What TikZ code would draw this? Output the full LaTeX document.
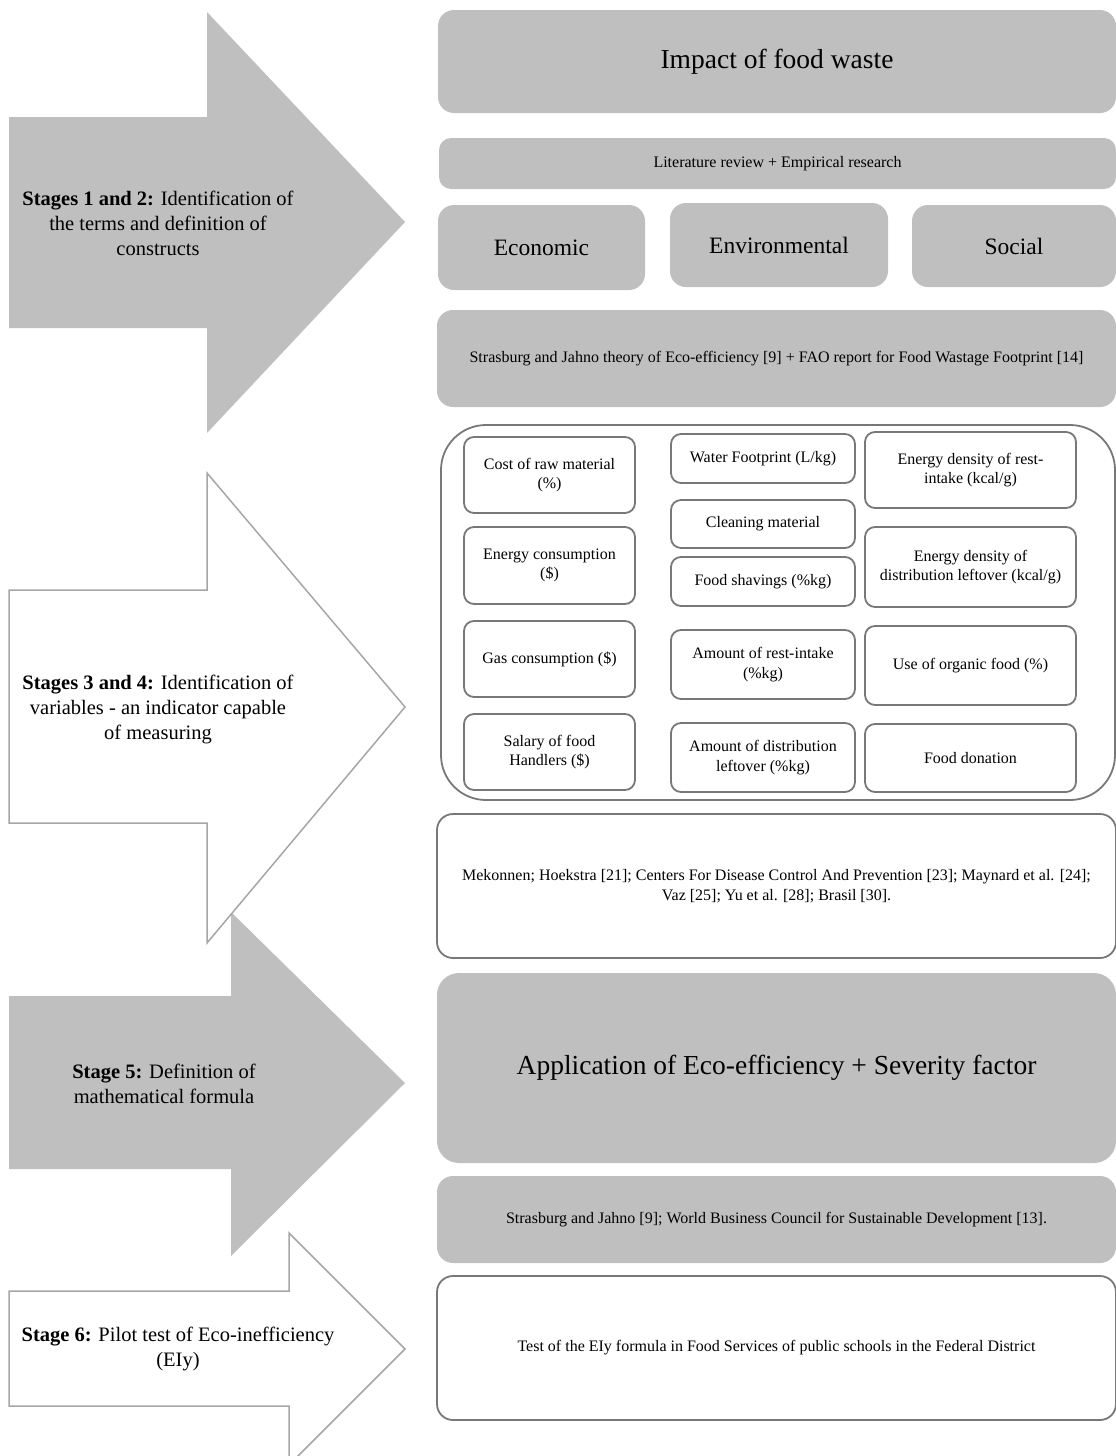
\documentclass[tikz,border=0pt]{standalone}
\usepackage{fontspec}
\setmainfont{Liberation Serif}
\definecolor{fillg}{RGB}{191,191,191}
\definecolor{arrowline}{RGB}{166,166,166}
\definecolor{boxline}{RGB}{120,120,120}
\tikzset{
  gbox/.style={fill=fillg, draw=none, rounded corners=16pt, inner sep=0pt, outer sep=0pt, align=center},
  wbox/.style={fill=white, draw=boxline, line width=1.8pt, rounded corners=16pt, inner sep=0pt, outer sep=0pt, align=center},
  ibox/.style={fill=white, draw=boxline, line width=1.8pt, rounded corners=10pt, inner sep=0pt, outer sep=0pt, align=center, font=\fontsize{16}{19.5}\selectfont},
  small/.style={font=\fontsize{16}{20}\selectfont},
  big/.style={font=\fontsize{27.5}{32}\selectfont},
  mid/.style={font=\fontsize{23.5}{28}\selectfont},
  stagetxt/.style={align=center, font=\fontsize{20.5}{25}\selectfont, inner sep=0pt},
  grayarrow/.style={fill=fillg, draw=none},
  whitearrow/.style={fill=white, draw=arrowline, line width=1.5pt, line join=miter},
}
\begin{document}
\begin{tikzpicture}[x=1pt,y=-1pt]
\useasboundingbox (0,0) rectangle (1116,1456);
% ---- arrows ----
\draw[grayarrow] (9,117) -- (207,117) -- (207,12) -- (405,222) -- (207,433) -- (207,328) -- (9,328) -- cycle;
\draw[grayarrow] (9,996) -- (231,996) -- (231,912) -- (405,1083) -- (231,1256) -- (231,1169) -- (9,1169) -- cycle;
\draw[whitearrow] (9,590) -- (207,590) -- (207,473) -- (405,707) -- (207,943) -- (207,823) -- (9,823) -- cycle;
\draw[whitearrow] (9,1291) -- (289,1291) -- (289,1233) -- (405,1349) -- (289,1465) -- (289,1406) -- (9,1406) -- cycle;
% ---- stage texts ----
\node[stagetxt] (s12) at (158,223) {\textbf{Stages 1 and 2:} Identification of\\the terms and definition of\\constructs};
\node[stagetxt] (s34) at (158,709) {\textbf{Stages 3 and 4:} Identification of\\variables - an indicator capable\\of measuring};
\node[stagetxt] (s5) at (164,1084) {\textbf{Stage 5:} Definition of\\mathematical formula};
\node[stagetxt] (s6) at (178,1349) {\textbf{Stage 6:} Pilot test of Eco-inefficiency\\(EIy)};
% ---- right column ----
\node[gbox, minimum width=678pt, minimum height=103pt, big] (impact) at (777,61.5) {Impact of food waste};
\node[gbox, rounded corners=12pt, minimum width=677pt, minimum height=51pt, small] (lit) at (777.5,163.5) {Literature review + Empirical research};
\node[gbox, minimum width=207pt, minimum height=85pt, mid] (econ) at (541.5,247.5) {Economic};
\node[gbox, minimum width=218pt, minimum height=84pt, mid] (env) at (779,245) {Environmental};
\node[gbox, minimum width=204pt, minimum height=82pt, mid] (soc) at (1014,246) {Social};
\node[gbox, minimum width=679pt, minimum height=97pt, small] (strasA) at (776.5,358.5) {Strasburg and Jahno theory of Eco-efficiency [9] + FAO report for Food Wastage Footprint [14]};
\node[wbox, rounded corners=45pt, minimum width=674pt, minimum height=375pt] (vars) at (778,612.5) {};
% column 1
\node[ibox, minimum width=171pt, minimum height=76pt] (cost) at (549.5,475) {Cost of raw material\\(\%)};
\node[ibox, minimum width=171pt, minimum height=77pt] (energy) at (549.5,565.5) {Energy consumption\\(\$)};
\node[ibox, minimum width=171pt, minimum height=76pt] (gas) at (549.5,659) {Gas consumption (\$)};
\node[ibox, minimum width=171pt, minimum height=76pt] (salary) at (549.5,752) {Salary of food\\Handlers (\$)};
% column 2
\node[ibox, minimum width=184pt, minimum height=49pt] (water) at (763,458.5) {Water Footprint (L/kg)};
\node[ibox, minimum width=184pt, minimum height=48pt] (clean) at (763,524) {Cleaning material};
\node[ibox, minimum width=184pt, minimum height=49pt] (shav) at (763,581.5) {Food shavings (\%kg)};
\node[ibox, minimum width=184pt, minimum height=69pt] (restint) at (763,664.5) {Amount of rest-intake\\(\%kg)};
\node[ibox, minimum width=184pt, minimum height=69pt] (distlo) at (763,757.5) {Amount of distribution\\leftover (\%kg)};
% column 3
\node[ibox, minimum width=211pt, minimum height=76pt] (edrest) at (970.5,470) {Energy density of rest-\\intake (kcal/g)};
\node[ibox, minimum width=211pt, minimum height=80pt] (eddist) at (970.5,567) {Energy density of\\distribution leftover (kcal/g)};
\node[ibox, minimum width=211pt, minimum height=79pt] (organic) at (970.5,665.5) {Use of organic food (\%)};
\node[ibox, minimum width=211pt, minimum height=68pt] (donation) at (970.5,758) {Food donation};
% lower boxes
\node[wbox, minimum width=679pt, minimum height=144pt, small] (mek) at (776.5,886) {Mekonnen; Hoekstra [21]; Centers For Disease Control And Prevention [23]; Maynard et al. [24];\\Vaz [25]; Yu et al. [28]; Brasil [30].};
\node[gbox, rounded corners=22pt, minimum width=679pt, minimum height=190pt, big] (app) at (776.5,1068) {Application of Eco-efficiency + Severity factor};
\node[gbox, minimum width=679pt, minimum height=87pt, small] (strasB) at (776.5,1219.5) {Strasburg and Jahno [9]; World Business Council for Sustainable Development [13].};
\node[wbox, minimum width=679pt, minimum height=144pt, small] (test) at (776.5,1348) {Test of the EIy formula in Food Services of public schools in the Federal District};
\end{tikzpicture}
\end{document}
